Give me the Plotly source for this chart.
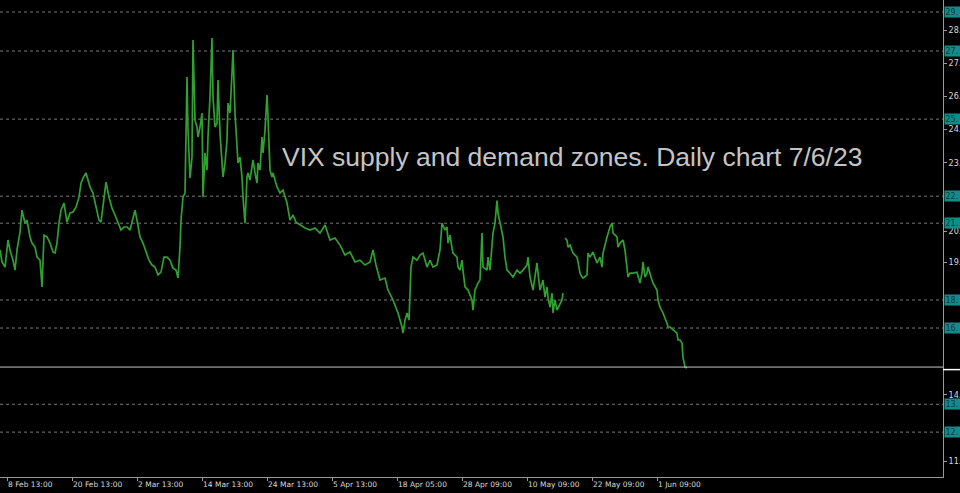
import plotly.graph_objects as go

# ---------------- data ----------------
# bar index (chart bar number) and VIX price, first contract segment
bar_a = [0, 2, 5, 8, 10, 13, 15, 17, 20, 22, 25, 27, 30, 32, 35, 37, 40, 42, 44, 47, 50, 53, 55, 57, 59, 61, 64, 67, 70, 73,
         76, 79, 81, 83, 86, 88, 90, 93, 96, 99, 101, 104, 106, 109, 112, 115, 118, 121, 124, 127, 130, 133, 135, 137, 140,
         143, 146, 149, 152, 155, 158, 161, 164, 167, 170, 173, 176, 178, 180, 181, 183, 185, 187, 188, 190, 192, 193, 195,
         197, 198, 200, 202, 203, 205, 207, 208, 210, 212, 213, 215, 217, 218, 220, 222, 223, 225, 227, 228, 230, 232, 233,
         235, 237, 238, 240, 242, 243, 245, 247, 248, 250, 252, 253, 255, 257, 258, 260, 262, 263, 265, 267, 268, 270, 272,
         273, 277, 280, 283, 287, 290, 293, 296, 300, 305, 310, 315, 320, 325, 330, 335, 340, 345, 350, 355, 360, 365, 370,
         373, 376, 380, 385, 388, 393, 398, 402, 403, 405, 407, 409, 411, 413, 417, 420, 423, 427, 430, 433, 437, 440, 442,
         445, 447, 448, 450, 452, 453, 457, 458, 460, 462, 463, 465, 468, 472, 473, 475, 478, 480, 482, 483, 487, 488, 490,
         492, 493, 495, 497, 498, 500, 502, 503, 505, 507, 510, 513, 517, 520, 523, 527, 528, 530, 533, 537, 538, 540, 543,
         545, 547, 548, 550, 552, 553, 555, 557, 560, 562, 563]
vix_a = [20.04, 19.57, 19.37, 20.43, 20.04, 19.64, 19.25, 20.04, 20.74, 21.60, 21.09, 21.21, 20.55, 20.31, 20.15, 19.76,
         19.64, 18.59, 20.62, 20.55, 20.31, 19.96, 19.92, 20.31, 21.09, 21.60, 21.88, 21.13, 21.49, 21.53, 21.72, 22.11,
         22.66, 22.86, 23.06, 22.78, 22.51, 22.27, 21.72, 21.21, 21.13, 22.11, 22.70, 22.11, 21.68, 21.41, 21.09, 20.82,
         20.94, 20.94, 20.82, 21.33, 21.60, 21.21, 20.55, 20.31, 19.96, 19.64, 19.45, 19.37, 19.06, 19.17, 19.76, 19.76,
         19.64, 19.33, 19.25, 18.94, 20.15, 21.21, 22.11, 22.27, 26.82, 24.74, 22.86, 23.68, 28.27, 25.13, 24.86, 24.47,
         24.86, 25.41, 22.11, 23.84, 23.17, 24.47, 26.04, 28.35, 26.04, 24.86, 25.02, 26.70, 24.62, 23.17, 22.90, 23.45,
         24.35, 25.80, 25.41, 26.98, 27.88, 25.41, 24.08, 23.45, 23.68, 22.90, 22.11, 21.09, 22.90, 23.06, 22.78, 23.29,
         23.57, 23.06, 22.66, 23.45, 23.17, 24.47, 23.84, 24.74, 26.11, 25.25, 23.17, 22.90, 23.06, 22.51, 22.27, 22.39,
         21.88, 21.21, 21.41, 21.13, 21.02, 20.90, 20.82, 20.90, 20.70, 21.02, 20.43, 20.51, 20.23, 19.84, 19.96, 19.57,
         19.64, 19.45, 19.57, 20.04, 19.45, 18.86, 18.94, 18.47, 18.08, 17.57, 17.02, 16.78, 17.29, 17.57, 17.29, 19.37,
         19.76, 19.64, 19.84, 19.92, 19.37, 19.64, 19.37, 19.45, 20.04, 21.09, 20.82, 20.94, 20.31, 20.62, 20.11, 19.92,
         19.76, 19.37, 19.25, 19.64, 19.25, 18.59, 18.47, 18.08, 17.68, 18.47, 18.74, 18.86, 20.70, 19.37, 19.25, 19.76,
         19.25, 20.15, 20.70, 21.09, 21.98, 21.49, 21.09, 20.70, 20.55, 19.76, 19.25, 19.13, 18.98, 19.25, 19.13, 19.25,
         19.45, 19.76, 18.98, 18.47, 19.53, 19.13, 18.47, 18.86, 18.19, 18.59, 18.19, 17.80, 18.35, 17.57, 18.08, 17.68,
         17.96, 18.08, 18.35]

# second contract segment (after the roll gap)
bar_b = [565, 567, 568, 570, 573, 577, 578, 580, 582, 583, 587, 588, 590, 593, 597, 600, 602, 603, 607, 610, 612, 613,
         617, 618, 620, 623, 625, 627, 628, 630, 633, 637, 638, 640, 642, 643, 645, 647, 648, 650, 652, 653, 657, 658,
         660, 663, 667, 668, 670, 673, 677, 678, 680, 682, 683, 685, 687]
vix_b = [20.51, 20.43, 20.15, 20.23, 19.92, 19.76, 19.57, 19.13, 18.98, 18.94, 19.06, 19.92, 19.76, 19.96, 19.53, 19.76,
         19.37, 19.92, 20.55, 20.94, 21.09, 20.70, 20.55, 20.15, 20.31, 20.43, 20.04, 19.13, 18.98, 19.13, 19.13, 19.17,
         18.98, 18.74, 19.13, 19.57, 18.98, 19.13, 19.37, 19.13, 18.86, 18.74, 18.47, 18.08, 17.80, 17.57, 17.17, 17.02,
         17.02, 16.90, 16.78, 16.51, 16.51, 16.39, 15.84, 15.45, 15.41]

# supply / demand zone levels (horizontal lines with price tags, shown truncated as on the chart)
zone_levels = [29.37, 27.84, 25.17, 22.15, 21.09, 18.08, 16.98, 13.99, 12.90]
zone_labels = ["29.", "27.", "25.", "22.", "21.", "18.", "16.", "13.", "12."]

# price scale ticks (truncated labels as shown)
y_tickvals = [28.66, 27.36, 26.06, 24.76, 23.46, 20.76, 19.56, 14.36, 11.76]
y_ticktext = ["28.", "27.", "26.", "24.", "23.", "20.", "19.", "14.", "11."]

# time scale ticks
x_tickvals = [7, 72, 137, 202, 267, 332, 397, 462, 527, 592, 657]
x_ticktext = ["8 Feb 13:00", "20 Feb 13:00", "2 Mar 13:00", "14 Mar 13:00", "24 Mar 13:00", "5 Apr 13:00",
              "18 Apr 05:00", "28 Apr 09:00", "10 May 09:00", "22 May 09:00", "1 Jun 09:00"]

last_price = 15.41
title_text = "VIX supply and demand zones. Daily chart 7/6/23"

# ---------------- figure ----------------
fig = go.Figure()

fig.add_trace(go.Scatter(
    x=bar_a + [None] + bar_b,
    y=vix_a + [None] + vix_b,
    mode="lines",
    line=dict(color="#30a030", width=1.7),
    connectgaps=False,
    hoverinfo="skip",
))

shapes = []
for lv in zone_levels:
    shapes.append(dict(type="line", xref="paper", yref="y", x0=0, x1=1, y0=lv, y1=lv,
                       line=dict(color="#7a7a7a", width=1, dash="dot"), layer="below"))
# current price line
shapes.append(dict(type="line", xref="paper", yref="y", x0=0, x1=1, y0=last_price + 0.04, y1=last_price + 0.04,
                   line=dict(color="#c8c8c8", width=1)))
shapes.append(dict(type="line", xref="paper", yref="y", x0=1, x1=1.03, y0=last_price - 0.06, y1=last_price - 0.06,
                   line=dict(color="#ffffff", width=1.5)))

annotations = []
for lv, lb in zip(zone_levels, zone_labels):
    annotations.append(dict(x=1, xref="paper", y=lv, yref="y", text=lb, showarrow=False,
                            xanchor="left", yanchor="middle", xshift=1, width=14, align="left",
                            font=dict(family="DejaVu Sans", size=8, color="#0b3b3b"),
                            bgcolor="#138b8b", borderpad=0.5))
annotations.append(dict(x=571.5, y=23.68, xref="x", yref="y", text=title_text, showarrow=False,
                        xanchor="center", yanchor="middle",
                        font=dict(family="Liberation Sans", size=26.5, color="#c4c4c4")))

fig.update_layout(
    width=960, height=493,
    margin=dict(l=0, r=17, t=0, b=16, autoexpand=False),
    paper_bgcolor="#000000",
    plot_bgcolor="#000000",
    showlegend=False,
    shapes=shapes,
    annotations=annotations,
    xaxis=dict(range=[0, 943], showgrid=False, zeroline=False,
               showline=True, linecolor="#9a9a9a", linewidth=1,
               ticks="outside", ticklen=3, tickcolor="#9a9a9a",
               tickvals=x_tickvals, ticktext=x_ticktext,
               ticklabelposition="outside right",
               tickfont=dict(family="DejaVu Sans", size=7.5, color="#d8d8d8")),
    yaxis=dict(range=[11.14, 29.84], side="right", showgrid=False, zeroline=False,
               showline=True, linecolor="#9a9a9a", linewidth=1,
               ticks="outside", ticklen=3, tickcolor="#9a9a9a",
               tickvals=y_tickvals, ticktext=y_ticktext,
               tickfont=dict(family="DejaVu Sans", size=8, color="#d8d8d8")),
)

fig.write_html(
    "out.html",
    config={"displayModeBar": False},
    post_script="document.body.style.margin='0';document.body.style.background='#000';"
                "document.body.style.overflow='hidden';",
)
